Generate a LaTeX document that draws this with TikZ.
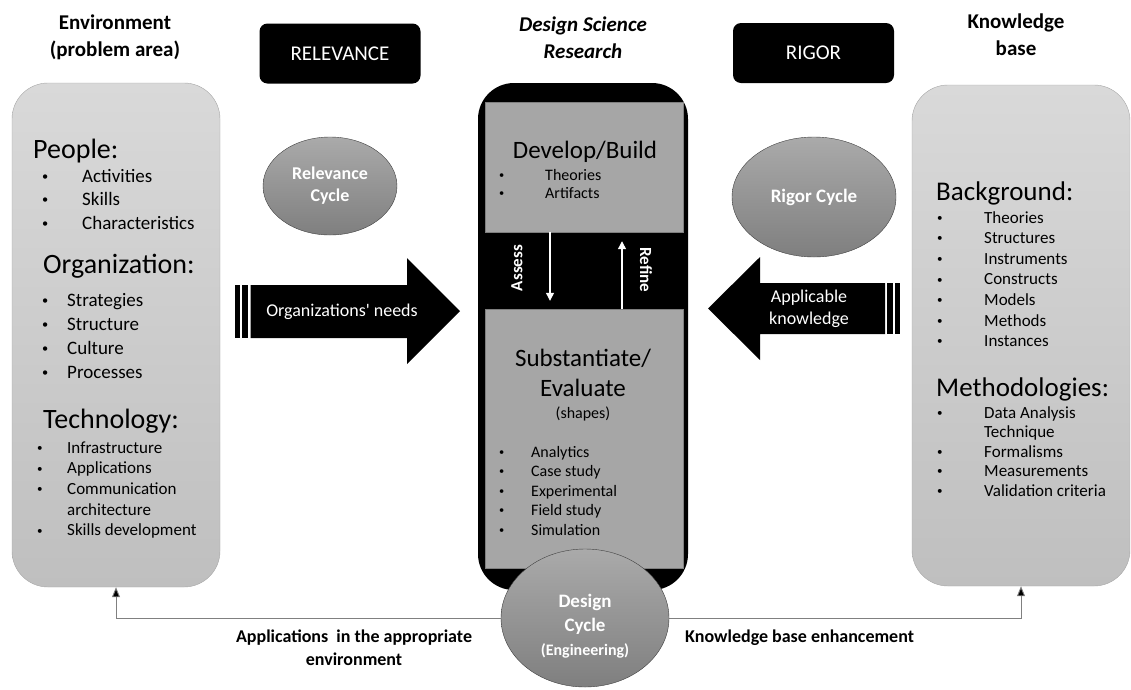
\documentclass[tikz,border=0pt]{standalone}
\usepackage{fontspec}
\usepackage{graphicx}
\setmainfont{Carlito}
\usetikzlibrary{arrows.meta,shapes.geometric}

\definecolor{boxtop}{HTML}{D9D9D9}
\definecolor{boxbot}{HTML}{BFBFBF}
\definecolor{boxline}{HTML}{A6A6A6}
\definecolor{stagefill}{HTML}{A6A6A6}
\definecolor{stageline}{HTML}{7F7F7F}
\definecolor{cyctop}{HTML}{AAAAAA}
\definecolor{cycbot}{HTML}{7F7F7F}
\definecolor{cycline}{HTML}{404040}

\newcommand\fs[2]{\fontsize{#1}{#2}\selectfont}
\newcommand\itemrows[2]{\begin{tabular}[t]{@{}#1@{}}#2\end{tabular}}
\newcommand\bu{\raisebox{0.1em}{\scalebox{0.65}{\textbullet}}}

\begin{document}
\begin{tikzpicture}[x=1pt,y=-1pt,
  hdtitle/.style={anchor=base,inner sep=0pt,font=\bfseries\fs{21}{27}},
  tag/.style={fill=black,rounded corners=8pt,minimum width=161pt,minimum height=60pt,text=white,font=\fs{21}{25}},
  panel/.style={draw=boxline,top color=boxtop,bottom color=boxbot,rounded corners=36pt},
  stage/.style={draw=stageline,fill=stagefill,minimum width=198pt},
  heading/.style={anchor=base west,inner sep=0pt,font=\fs{28}{34}},
  lst/.style={anchor=base west,inner sep=0pt},
  cyc/.style={ellipse,draw=cycline,top color=cyctop,bottom color=cycbot,inner sep=0pt,text=white,font=\bfseries\fs{18}{22},align=center},
  warr/.style={draw=white,line width=1.2pt,-{Triangle[length=8pt,width=8pt]}},
  bline/.style={draw=black!50,line width=0.9pt,-{Triangle[length=10pt,width=8pt,fill=black]}},
  lbl/.style={anchor=base,inner sep=0pt,font=\bfseries\fs{18}{23}}]
\useasboundingbox (0,0) rectangle (1131,689);

% titles and tags
\node[hdtitle] (envt) at (115,29) {\itemrows{c}{Environment\\(problem area)}};
\node[hdtitle,font=\bfseries\itshape\fs{21}{27}] (dsrt) at (583,31) {\itemrows{c}{Design Science\\Research}};
\node[hdtitle] (kbt) at (1016,28) {\itemrows{c}{Knowledge\\base}};
\node[tag] (relv) at (340,53.5) {RELEVANCE};
\node[tag] (rigr) at (813.5,53) {RIGOR};

% side panels
\node[panel,minimum width=208pt,minimum height=504pt] (env) at (116,335) {};
\node[panel,minimum width=218pt,minimum height=501pt] (kb) at (1021,335.5) {};

% environment
\node[heading] (ppl) at (33,158) {People:};
\node[lst,font=\fs{19}{23.5}] (ppllist) at (42,182) {\itemrows{p{28pt}l}{\bu & Activities\\ \bu & Skills\\ \bu & Characteristics}};
\node[heading] (org) at (43,273) {Organization:};
\node[lst,font=\fs{19}{24}] (orglist) at (42,306) {\itemrows{p{13pt}l}{\bu & Strategies\\ \bu & Structure\\ \bu & Culture\\ \bu & Processes}};
\node[heading] (tech) at (43,428) {Technology:};
\node[lst,font=\fs{17}{20.7}] (techlist) at (37,453) {\itemrows{p{18pt}l}{\bu & Infrastructure\\ \bu & Applications\\ \bu & Communication\\ & architecture\\ \bu & Skills development}};

% knowledge base
\node[heading,font=\fs{27}{32}] (bg) at (936,200) {Background:};
\node[lst,font=\fs{17}{20.6}] (bglist) at (937,223) {\itemrows{p{35pt}l}{\bu & Theories\\ \bu & Structures\\ \bu & Instruments\\ \bu & Constructs\\ \bu & Models\\ \bu & Methods\\ \bu & Instances}};
\node[heading,font=\fs{27}{32}] (meth) at (936,396) {Methodologies:};
\node[lst,font=\fs{17}{19.5}] (methlist) at (937,418) {\itemrows{p{35pt}l}{\bu & Data Analysis\\ & Technique\\ \bu & Formalisms\\ \bu & Measurements\\ \bu & Validation criteria}};

% design science research
\node[fill=black,rounded corners=36pt,minimum width=210pt,minimum height=507pt] (dsr) at (583,336.5) {};
\node[stage,minimum height=130pt] (dev) at (584,167) {};
\node[stage,minimum height=259pt] (sub) at (584,438.5) {};
\node[heading,anchor=base,font=\fs{25}{30}] (devt) at (585,158) {Develop/Build};
\node[lst,font=\fs{16}{18.5}] (devlist) at (499,180) {\itemrows{p{34pt}l}{\bu & Theories\\ \bu & Artifacts}};
\node[heading,anchor=base,font=\fs{25}{30}] (subt) at (583,366) {\itemrows{c}{Substantiate/\\Evaluate}};
\node[heading,anchor=base,font=\fs{16}{19}] (shp) at (583,418) {(shapes)};
\node[lst,font=\fs{16}{19.5}] (sublist) at (499,457) {\itemrows{p{20pt}l}{\bu & Analytics\\ \bu & Case study\\ \bu & Experimental\\ \bu & Field study\\ \bu & Simulation}};
\draw[warr,shorten >=8pt] ([xshift=-34pt]dev.south) -- ([xshift=-34pt]sub.north);
\draw[warr,shorten >=-1pt] ([xshift=38pt]sub.north) -- ([xshift=38pt,yshift=-10pt]dev.south);
\node[rotate=90,text=white,font=\bfseries\fs{17}{20}] (asst) at (517,268) {Assess};
\node[rotate=-90,text=white,font=\bfseries\fs{17}{20}] (reft) at (646,270) {Refine};

% big arrows
\fill (235,285) rectangle (240,338);
\fill (242,285) rectangle (248,338);
\fill (250.5,285) -- (407,285) -- (407,258) -- (460,311) -- (407,364) -- (407,338) -- (250.5,338) -- cycle;
\node[text=white,font=\fs{18}{22}] (needs) at (342,312) {Organizations\textquotesingle{} needs};
\fill (895,283) rectangle (900,334);
\fill (887.3,283) rectangle (893.3,334);
\fill (885,283) -- (760,283) -- (760,257) -- (708,308.5) -- (760,360) -- (760,334) -- (885,334) -- cycle;
\node[text=white,font=\fs{18}{22},align=center] (appk) at (809,309) {Applicable\\knowledge};

% cycles
\node[cyc,minimum width=134pt,minimum height=98pt] (relc) at (330,186) {Relevance\\Cycle};
\node[cyc,minimum width=164pt,minimum height=120pt,font=\bfseries\fs{19}{22}] (rigc) at (814,197) {Rigor Cycle};
\node[cyc,minimum width=168pt,minimum height=138pt] (dc) at (585,618) {};
\node[inner sep=0pt,text=white,font=\bfseries\fs{19}{24},align=center] (dct) at (585,626) {Design\\Cycle\\{\fs{16}{23}(Engineering)}};

% feedback to the panels
\draw[bline] (dc.west) -| (env.south);
\draw[bline] (dc.east) -| (kb.south);
\node[lbl] (appl) at (354,642) {\itemrows{c}{Applications~ in the appropriate\\environment}};
\node[lbl,anchor=base west] (kbe) at (685,642) {Knowledge base enhancement};
\end{tikzpicture}
\end{document}
